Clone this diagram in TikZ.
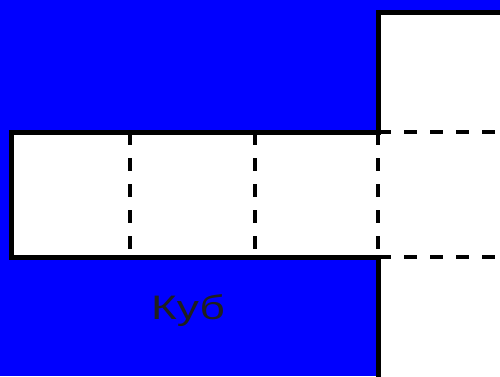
\documentclass[tikz,border=0pt]{standalone}
\usepackage{fontspec}
\setmainfont{Liberation Sans}
\definecolor{netzblau}{rgb}{0,0,1}
\definecolor{schrift}{rgb}{0.12,0.12,0.12}
% Kanten der Flaechen (x und y in Pixeln)
\def\xa{11}
\def\xb{130}
\def\xc{255}
\def\xd{378}
\def\ya{12}
\def\yb{132}
\def\yc{257}
\tikzset{
	kante/.style={line width=5pt,line cap=rect},
	falz/.style={line width=4pt,dash pattern=on 13pt off 13pt},
}
\begin{document}
\begin{tikzpicture}[x=1pt,y=-1pt]
\useasboundingbox (0,0) rectangle (500,376);
\clip (0,0) rectangle (500,376);
\fill[color=netzblau] (0,0) rectangle (500,376);
% Netz des Wuerfels
\fill[color=white] (\xa,\yb) rectangle (520,\yc);
\fill[color=white] (\xd,\ya) rectangle (520,400);
\foreach \x in {\xb,\xc,\xd}{
	\draw[falz] (\x,\yb) -- (\x,\yc);
}
\foreach \y in {\yb,\yc}{
	\draw[falz] (\xd,\y) -- (520,\y);
}
\draw[kante] (520,\ya) -- (\xd,\ya) -- (\xd,\yb) -- (\xa,\yb) -- (\xa,\yc) -- (\xd,\yc) -- (\xd,400);
\node[color=schrift] (titel) at (188,311) {\scalebox{1.3}[1]{\fontsize{34}{36}\selectfont Куб}};
\end{tikzpicture}
\end{document}
